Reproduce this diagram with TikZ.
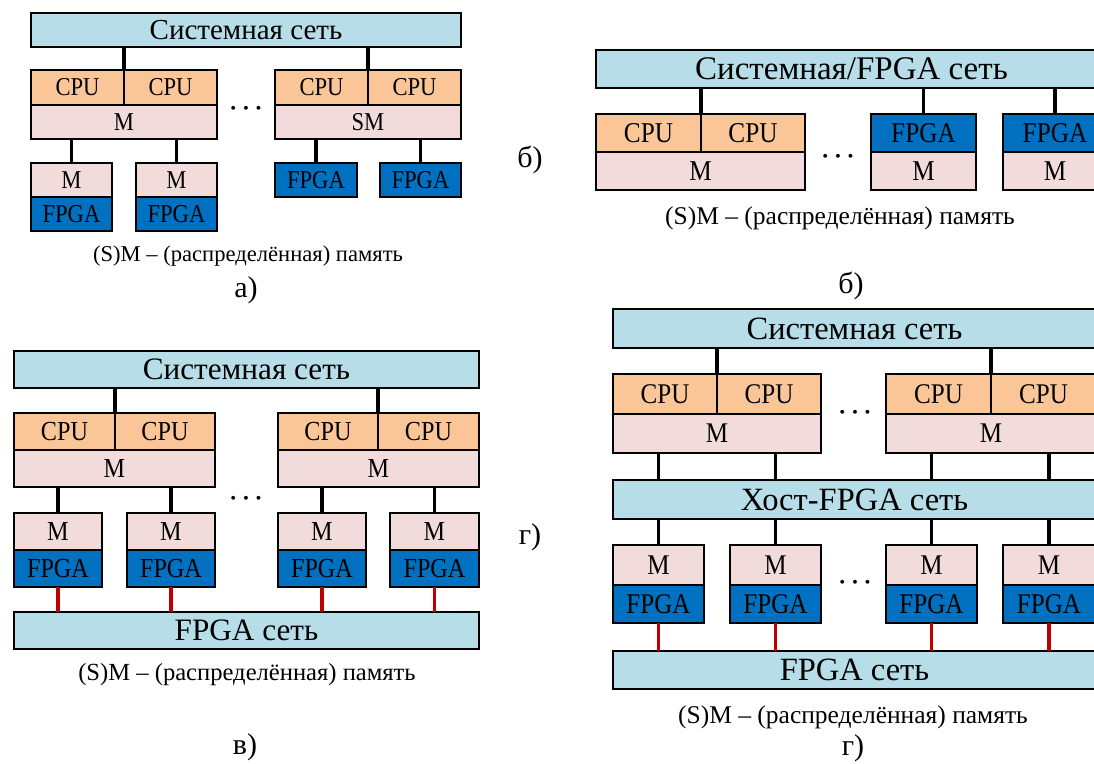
\documentclass[tikz,border=0pt]{standalone}
\usepackage{fontspec}
\setmainfont{Liberation Serif}
\newfontfamily\cellfont{Liberation Serif}[FakeStretch=0.88]
\usetikzlibrary{positioning}

\definecolor{netblue}{RGB}{183,222,232}
\definecolor{cpuorange}{RGB}{250,198,152}
\definecolor{mempink}{RGB}{242,220,219}
\definecolor{fpgablue}{RGB}{0,112,192}
\definecolor{linkred}{RGB}{192,0,0}

\begin{document}
\begin{tikzpicture}[
        x = 1pt, y = -1pt,
        every node/.style = {inner sep = 0pt},
        cell/.style = {draw, line width = 2pt, outer sep = 0pt, anchor = north west},
        wh/.style 2 args = {minimum width = #1, minimum height = #2},
        net/.style = {cell, fill = netblue},
        cpu/.style = {cell, fill = cpuorange},
        mem/.style = {cell, fill = mempink},
        fpga/.style = {cell, fill = fpgablue},
        link/.style = {line width = 3.2pt},
        redlink/.style = {line width = 3.2pt, draw = linkred},
        dots/.style = {font = \fontsize{34}{34}\selectfont\boldmath},
        caption/.style = {font = \fontsize{#1}{#1}\selectfont},
        sublabel/.style = {font = \fontsize{30}{32}\selectfont}
    ]
    \useasboundingbox (0,0) rectangle (1094,763);

    % a)
    \begin{scope}[font = \cellfont\fontsize{25.7}{27}\selectfont,
                  net/.append style = {font = \fontsize{29}{30}\selectfont}]
      \node[net, wh = {430pt}{34pt}] (an) at (31,13) {Системная сеть};
      \node[cpu, wh = {93pt}{35pt}] (ac1) at (31,70) {CPU};
      \node[cpu, wh = {93pt}{35pt}] (ac2) at (ac1.north east) {CPU};
      \node[mem, wh = {186pt}{34pt}] (am1) at (ac1.south west) {M};
      \node[cpu, wh = {93pt}{35pt}] (ac3) at (275,70) {CPU};
      \node[cpu, wh = {93pt}{35pt}] (ac4) at (ac3.north east) {CPU};
      \node[mem, wh = {186pt}{34pt}] (am2) at (ac3.south west) {SM};
      \node[mem, wh = {81pt}{34pt}] (asm1) at (31,163) {M};
      \node[fpga, wh = {81pt}{34pt}] (asf1) at (asm1.south west) {FPGA};
      \node[mem, wh = {81pt}{34pt}] (asm2) at (136,163) {M};
      \node[fpga, wh = {81pt}{34pt}] (asf2) at (asm2.south west) {FPGA};
      \node[fpga, wh = {82pt}{34pt}] (asf3) at (275,163) {FPGA};
      \node[fpga, wh = {81pt}{34pt}] (asf4) at (380,163) {FPGA};
      \node[dots] (ad) at (246,109) {$\cdots$};
      \node[caption = 22.6] (acap) at (248,256) {(S)M – (распределённая) память};

      \draw[link] (ac1.north east) -- (ac1.north east |- an.south)
                  (ac3.north east) -- (ac3.north east |- an.south)
                  (asm1.north) -- (asm1.north |- am1.south)
                  (asm2.north) -- (asm2.north |- am1.south)
                  (asf3.north) -- (asf3.north |- am2.south)
                  (asf4.north) -- (asf4.north |- am2.south);
    \end{scope}
    \node[sublabel] (alab) at (246,290) {а)};

    % b)
    \begin{scope}[font = \cellfont\fontsize{28.7}{30}\selectfont,
                  net/.append style = {font = \fontsize{33}{34}\selectfont}]
      \node[net, wh = {511pt}{38pt}] (bn) at (596,50) {Системная/FPGA сеть};
      \node[cpu, wh = {105pt}{38pt}] (bc1) at (596,114) {CPU};
      \node[cpu, wh = {104pt}{38pt}] (bc2) at (bc1.north east) {CPU};
      \node[mem, wh = {209pt}{38pt}] (bm1) at (bc1.south west) {M};
      \node[fpga, wh = {105pt}{38pt}] (bf1) at (871,114) {FPGA};
      \node[mem, wh = {105pt}{38pt}] (bm2) at (bf1.south west) {M};
      \node[fpga, wh = {104pt}{38pt}] (bf2) at (1003,114) {FPGA};
      \node[mem, wh = {104pt}{38pt}] (bm3) at (bf2.south west) {M};
      \node[dots] (bd) at (838,157) {$\cdots$};
      \node[caption = 25.5] (bcap) at (840,218) {(S)M – (распределённая) память};

      \draw[link] (bc1.north east) -- (bc1.north east |- bn.south)
                  (bf1.north) -- (bf1.north |- bn.south)
                  (bf2.north) -- (bf2.north |- bn.south);
    \end{scope}
    \node[sublabel] (blab1) at (530,160) {б)};
    \node[sublabel] (blab2) at (851,286) {б)};

    % c)
    \begin{scope}[font = \cellfont\fontsize{27.5}{29}\selectfont,
                  net/.append style = {font = \fontsize{31.2}{32}\selectfont}]
      \node[net, wh = {465pt}{37pt}] (vn) at (14,351) {Системная сеть};
      \node[cpu, wh = {101pt}{37pt}] (vc1) at (14,413) {CPU};
      \node[cpu, wh = {100pt}{37pt}] (vc2) at (vc1.north east) {CPU};
      \node[mem, wh = {201pt}{37pt}] (vm1) at (vc1.south west) {M};
      \node[cpu, wh = {100pt}{37pt}] (vc3) at (278,413) {CPU};
      \node[cpu, wh = {101pt}{37pt}] (vc4) at (vc3.north east) {CPU};
      \node[mem, wh = {201pt}{37pt}] (vm2) at (vc3.south west) {M};
      \node[mem, wh = {88pt}{37pt}] (vsm1) at (14,513) {M};
      \node[fpga, wh = {88pt}{37pt}] (vsf1) at (vsm1.south west) {FPGA};
      \node[mem, wh = {88pt}{37pt}] (vsm2) at (127,513) {M};
      \node[fpga, wh = {88pt}{37pt}] (vsf2) at (vsm2.south west) {FPGA};
      \node[mem, wh = {88pt}{37pt}] (vsm3) at (278,513) {M};
      \node[fpga, wh = {88pt}{37pt}] (vsf3) at (vsm3.south west) {FPGA};
      \node[mem, wh = {89pt}{37pt}] (vsm4) at (390,513) {M};
      \node[fpga, wh = {89pt}{37pt}] (vsf4) at (vsm4.south west) {FPGA};
      \node[net, wh = {465pt}{37pt}] (vfn) at (14,612) {FPGA сеть};
      \node[dots] (vd) at (246,499) {$\cdots$};
      \node[caption = 24.6] (vcap) at (247,675) {(S)M – (распределённая) память};

      \draw[link] (vc1.north east) -- (vc1.north east |- vn.south)
                  (vc3.north east) -- (vc3.north east |- vn.south)
                  (vsm1.north) -- (vsm1.north |- vm1.south)
                  (vsm2.north) -- (vsm2.north |- vm1.south)
                  (vsm3.north) -- (vsm3.north |- vm2.south)
                  (vsm4.north) -- (vsm4.north |- vm2.south);
      \draw[redlink] (vsf1.south) -- (vsf1.south |- vfn.north)
                     (vsf2.south) -- (vsf2.south |- vfn.north)
                     (vsf3.south) -- (vsf3.south |- vfn.north)
                     (vsf4.south) -- (vsf4.south |- vfn.north);
    \end{scope}
    \node[sublabel] (vlab) at (245,747) {в)};

    % d)
    \begin{scope}[font = \cellfont\fontsize{28.5}{30}\selectfont,
                  net/.append style = {font = \fontsize{32.5}{34}\selectfont}]
      \node[net, wh = {483pt}{39pt}] (gn) at (613,309) {Системная сеть};
      \node[cpu, wh = {104pt}{40pt}] (gc1) at (613,374) {CPU};
      \node[cpu, wh = {104pt}{40pt}] (gc2) at (gc1.north east) {CPU};
      \node[mem, wh = {208pt}{39pt}] (gm1) at (gc1.south west) {M};
      \node[cpu, wh = {105pt}{40pt}] (gc3) at (886,374) {CPU};
      \node[cpu, wh = {105pt}{40pt}] (gc4) at (gc3.north east) {CPU};
      \node[mem, wh = {210pt}{39pt}] (gm2) at (gc3.south west) {M};
      \node[net, wh = {483pt}{39pt}] (hn) at (613,480) {Хост-FPGA сеть};
      \node[mem, wh = {91pt}{40pt}] (gsm1) at (613,545) {M};
      \node[fpga, wh = {91pt}{38pt}] (gsf1) at (gsm1.south west) {FPGA};
      \node[mem, wh = {91pt}{40pt}] (gsm2) at (730,545) {M};
      \node[fpga, wh = {91pt}{38pt}] (gsf2) at (gsm2.south west) {FPGA};
      \node[mem, wh = {91pt}{40pt}] (gsm3) at (886,545) {M};
      \node[fpga, wh = {91pt}{38pt}] (gsf3) at (gsm3.south west) {FPGA};
      \node[mem, wh = {92pt}{40pt}] (gsm4) at (1003,545) {M};
      \node[fpga, wh = {92pt}{38pt}] (gsf4) at (gsm4.south west) {FPGA};
      \node[net, wh = {483pt}{38pt}] (gfn) at (613,651) {FPGA сеть};
      \node[dots] (gd1) at (855,413) {$\cdots$};
      \node[dots] (gd2) at (855,583) {$\cdots$};
      \node[caption = 25.5] (gcap) at (853,717) {(S)M – (распределённая) память};

      \draw[link] (gc1.north east) -- (gc1.north east |- gn.south)
                  (gc3.north east) -- (gc3.north east |- gn.south)
                  (gsm1.north |- gm1.south) -- (gsm1.north |- hn.north)
                  (gsm2.north |- gm1.south) -- (gsm2.north |- hn.north)
                  (gsm3.north |- gm2.south) -- (gsm3.north |- hn.north)
                  (gsm4.north |- gm2.south) -- (gsm4.north |- hn.north)
                  (gsm1.north) -- (gsm1.north |- hn.south)
                  (gsm2.north) -- (gsm2.north |- hn.south)
                  (gsm3.north) -- (gsm3.north |- hn.south)
                  (gsm4.north) -- (gsm4.north |- hn.south);
      \draw[redlink] (gsf1.south) -- (gsf1.south |- gfn.north)
                     (gsf2.south) -- (gsf2.south |- gfn.north)
                     (gsf3.south) -- (gsf3.south |- gfn.north)
                     (gsf4.south) -- (gsf4.south |- gfn.north);
    \end{scope}
    \node[sublabel] (glab1) at (530,537) {г)};
    \node[sublabel] (glab2) at (853,748) {г)};
\end{tikzpicture}
\end{document}
